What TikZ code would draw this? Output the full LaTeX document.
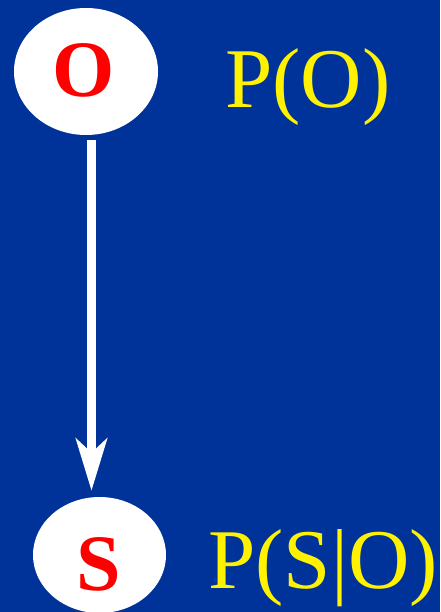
\documentclass[tikz,border=0pt]{standalone}
\usepackage{fontspec}
\setmainfont{Liberation Serif}
\usetikzlibrary{shapes.geometric,arrows.meta}
\definecolor{slideblue}{RGB}{0,51,153}
\begin{document}
\begin{tikzpicture}[x=1pt,y=-1pt,
  blob/.style={ellipse,fill=white,inner sep=0pt},
  lettr/.style={text=red,font=\fontsize{80}{90}\selectfont\bfseries,anchor=base,inner sep=0pt},
  prob/.style={text=yellow,font=\fontsize{85}{100}\selectfont,anchor=base west,inner sep=0pt},
  link/.style={draw=white,line width=9pt,-{Stealth[length=52pt,width=31pt,inset=14pt]}}]
\fill[slideblue] (0,0) rectangle (440,612);
\useasboundingbox (0,0) rectangle (440,612);
% nodes
\node[blob,minimum width=144pt,minimum height=127pt] (O) at (86,71.5) {};
\node[blob,minimum width=133pt,minimum height=116pt] (S) at (99.5,555) {};
\node[lettr] (o) at (83.5,97) {O};
\node[lettr] (s) at (99,590) {S};
\node[prob] (po) at (225,108) {P(O)};
\node[prob] (pso) at (208,588) {P(S|O)};
% edge
\draw[link,shorten <=4.5pt,shorten >=6pt] ([xshift=5.5pt]O.south) -- ([xshift=-8pt]S.north);
\end{tikzpicture}
\end{document}
